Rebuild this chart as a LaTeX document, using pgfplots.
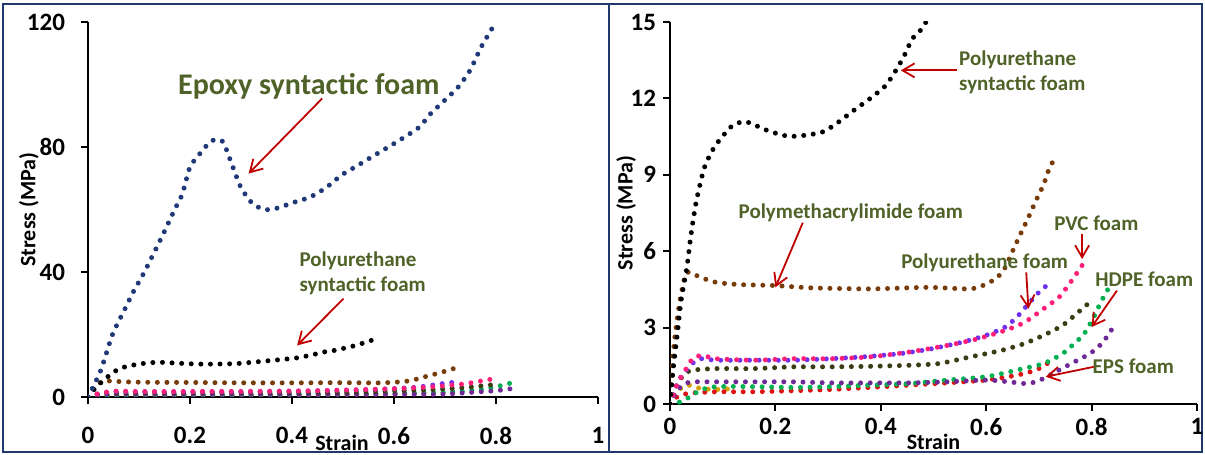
\documentclass[border=0pt]{standalone}
\usepackage{pgfplots}
\pgfplotsset{compat=1.18}
\usepackage{pgfplotstable}
\usepackage{fontspec}
\setmainfont{Carlito}
\usetikzlibrary{arrows.meta}
\definecolor{navy}{RGB}{31,56,120}
\definecolor{framec}{RGB}{31,56,110}
\definecolor{pmibrown}{RGB}{120,60,10}
\definecolor{pufoam}{RGB}{112,48,240}
\definecolor{pvcpink}{RGB}{255,30,120}
\definecolor{darkolive}{RGB}{60,60,20}
\definecolor{epspurple}{RGB}{112,40,150}
\definecolor{hdpegreen}{RGB}{0,176,80}
\definecolor{redc}{RGB}{220,20,20}
\definecolor{goldc}{RGB}{210,160,0}
\definecolor{labc}{RGB}{79,98,40}
\definecolor{arrowc}{RGB}{192,0,0}

\pgfplotstableread{
x y
0 0
0.025 8.5
0.048 20
0.071 27.7
0.09 34
0.109 39.5
0.132 47
0.147 52
0.17 60
0.185 65
0.2 73.6
0.22 78
0.239 81.6
0.25 82.3
0.265 81.6
0.284 73.6
0.3 67
0.322 62
0.345 60
0.368 60.3
0.406 62.4
0.436 64
0.467 67
0.497 71
0.528 74
0.558 77
0.589 80
0.619 83
0.65 86.4
0.672 90.7
0.703 95.5
0.726 99.2
0.749 104.5
0.771 112
0.798 119.5
}\epoxy

\pgfplotstableread{
x y
0 0
0.0066 1.46
0.014 2.76
0.021 4.06
0.032 5.36
0.04 6.67
0.05 7.97
0.065 9.27
0.083 10.05
0.102 10.57
0.12 10.96
0.142 11.09
0.16 10.96
0.19 10.70
0.226 10.51
0.263 10.57
0.292 10.70
0.321 11.09
0.35 11.55
0.38 12.0
0.409 12.5
0.431 13.18
0.445 13.7
0.46 14.35
0.48 14.8
0.52 16.3
0.55 17.8
0.57 19.0
}\pusyn

\pgfplotstableread{
x y
0 0
0.0066 2.1
0.014 3.4
0.021 4.3
0.032 5.17
0.058 4.97
0.087 4.78
0.131 4.69
0.2 4.65
0.27 4.56
0.38 4.52
0.49 4.58
0.57 4.52
0.6 4.71
0.621 4.97
0.636 5.36
0.65 6.0
0.665 6.67
0.68 7.32
0.694 7.97
0.709 8.62
0.72 9.27
0.733 9.73
}\pmi

\pgfplotstableread{
x y
0 0
0.014 0.8
0.025 1.2
0.043 1.6
0.058 1.78
0.087 1.72
0.16 1.72
0.233 1.72
0.306 1.78
0.365 1.85
0.438 1.98
0.497 2.17
0.555 2.43
0.6 2.7
0.636 3.02
0.658 3.41
0.68 3.93
0.7 4.39
0.718 4.71
}\pufoam

\pgfplotstableread{
x y
0 0
0.014 0.8
0.029 1.33
0.043 1.78
0.061 1.91
0.087 1.78
0.16 1.72
0.233 1.78
0.306 1.78
0.38 1.85
0.453 2.04
0.526 2.3
0.584 2.56
0.636 2.89
0.672 3.2
0.709 3.74
0.738 4.19
0.76 4.78
0.775 5.23
0.788 5.63
}\pvc

\pgfplotstableread{
x y
0 0
0.014 0.8
0.029 1.2
0.043 1.33
0.087 1.39
0.16 1.39
0.233 1.46
0.306 1.46
0.38 1.48
0.453 1.52
0.511 1.59
0.57 1.85
0.628 2.1
0.672 2.37
0.709 2.7
0.745 3.09
0.775 3.61
0.8 4.06
}\olive

\pgfplotstableread{
x y
0 0
0.014 0.55
0.029 0.8
0.043 0.87
0.087 0.87
0.16 0.87
0.233 0.87
0.306 0.83
0.38 0.83
0.453 0.83
0.526 0.87
0.6 0.94
0.643 0.87
0.68 0.8
0.709 1.0
0.738 1.33
0.767 1.65
0.797 1.98
0.819 2.37
0.833 2.76
0.843 3.09
}\eps

\pgfplotstableread{
x y
0 0
0.021 0.09
0.043 0.35
0.058 0.55
0.087 0.68
0.16 0.68
0.233 0.65
0.306 0.68
0.38 0.74
0.453 0.8
0.526 0.94
0.6 1.07
0.658 1.33
0.709 1.59
0.745 1.98
0.767 2.37
0.786 2.76
0.804 3.41
0.819 4.06
0.833 4.58
}\hdpe

\pgfplotstableread{
x y
0 0
0.014 0.29
0.036 0.42
0.087 0.48
0.16 0.48
0.233 0.52
0.306 0.57
0.38 0.65
0.453 0.74
0.526 0.83
0.6 0.94
0.658 1.13
0.694 1.33
0.716 1.59
}\redser

\pgfplotstableread{
x y
0 0
0.01 0.42
0.025 0.68
0.036 0.74
0.058 0.61
0.087 0.57
0.124 0.61
}\goldser

\tikzset{
  lab/.style={text=labc, font=\fontsize{10.5}{12.5}\selectfont\bfseries, inner sep=0pt},
  arr/.style={draw=arrowc, line width=0.9pt, -{Straight Barb[length=6pt,width=7pt]}},
  dots/.style={line width=2.5pt, dash pattern=on 0pt off 4.8pt, line cap=round},
}
\pgfplotsset{
  base/.style={
    scale only axis, anchor=south west,
    axis lines*=left,
    axis line style={line width=1pt, black},
    tick style={black, line width=1pt},
    tick align=outside, major tick length=3.5pt,
    xmin=0, xmax=1, ymin=0,
    xtick={0,0.2,0.4,0.6,0.8,1},
    xticklabels={0,0.2,0.4,0.6,0.8,1},
    ticklabel style={font=\fontsize{12.5}{14}\selectfont\bfseries},
    /pgf/number format/assume math mode=true,
    label style={font=\fontsize{11}{13}\selectfont\bfseries},
    xlabel={Strain}, ylabel={Stress (MPa)},
    every axis plot/.append style={no marks, smooth, tension=0.4},
  },
}

\begin{document}
\begin{tikzpicture}
\path[use as bounding box] (0,0) rectangle (602.5pt,227.5pt);
\draw[framec, line width=1.4pt] (1.5pt,1.5pt) rectangle (601pt,225.5pt);
\draw[framec, line width=1.4pt] (304.5pt,1.5pt) -- (304.5pt,225.5pt);

\begin{axis}[base, at={(44pt,29pt)}, width=255pt, height=187.5pt,
  ymax=120, ytick={0,40,80,120},
  xticklabel style={yshift=-8pt},
  yticklabel style={xshift=-4.5pt},
  xlabel style={at={(axis description cs:0.498,-0.1227)}, anchor=center},
  ylabel style={at={(axis description cs:-0.1157,0.5)}, anchor=center},
]
\addplot[dots, color=goldc] table {\goldser};
\addplot[dots, color=redc] table {\redser};
\addplot[dots, color=hdpegreen] table {\hdpe};
\addplot[dots, color=epspurple] table {\eps};
\addplot[dots, color=darkolive] table {\olive};
\addplot[dots, color=pufoam] table {\pufoam};
\addplot[dots, color=pvcpink] table {\pvc};
\addplot[dots, color=pmibrown] table {\pmi};
\addplot[dots, color=black] table {\pusyn};
\addplot[dots, color=navy] table {\epoxy};
\node[lab, font=\fontsize{15}{17}\selectfont\bfseries] at (axis cs:0.433,99.5) {Epoxy syntactic foam};
\draw[arr] (axis cs:0.459,95.5) -- (axis cs:0.315,71.5);
\node[lab, align=left, anchor=west] at (axis cs:0.414,39.5) {Polyurethane\\syntactic foam};
\draw[arr] (axis cs:0.501,31.5) -- (axis cs:0.41,16.5);
\end{axis}

\begin{axis}[base, at={(335pt,25.5pt)}, width=263.5pt, height=191pt,
  ymax=15, ytick={0,3,6,9,12,15},
  xlabel style={at={(axis description cs:0.5,-0.0995)}, anchor=center},
  ylabel style={at={(axis description cs:-0.0835,0.5)}, anchor=center},
]
\addplot[dots, color=goldc] table {\goldser};
\addplot[dots, color=redc] table {\redser};
\addplot[dots, color=hdpegreen] table {\hdpe};
\addplot[dots, color=epspurple] table {\eps};
\addplot[dots, color=darkolive] table {\olive};
\addplot[dots, color=pufoam] table {\pufoam};
\addplot[dots, color=pvcpink] table {\pvc};
\addplot[dots, color=pmibrown] table {\pmi};
\addplot[dots, color=black] table {\pusyn};
\node[lab, align=left, anchor=west] at (axis cs:0.548,13.02) {Polyurethane\\syntactic foam};
\draw[arr] (axis cs:0.544,13.1) -- (axis cs:0.438,13.1);
\node[lab] at (axis cs:0.343,7.49) {Polymethacrylimide foam};
\draw[arr] (axis cs:0.252,7.12) -- (axis cs:0.2,4.58);
\node[lab] at (axis cs:0.809,7.1) {PVC foam};
\draw[arr] (axis cs:0.782,6.67) -- (axis cs:0.782,5.69);
\node[lab] at (axis cs:0.597,5.53) {Polyurethane foam};
\draw[arr] (axis cs:0.676,5.17) -- (axis cs:0.68,3.74);
\node[lab] at (axis cs:0.9,4.88) {HDPE foam};
\draw[arr] (axis cs:0.848,4.45) -- (axis cs:0.8,3.02);
\node[lab] at (axis cs:0.879,1.5) {EPS foam};
\draw[arr] (axis cs:0.804,1.46) -- (axis cs:0.713,1.07);
\end{axis}
\end{tikzpicture}
\end{document}
